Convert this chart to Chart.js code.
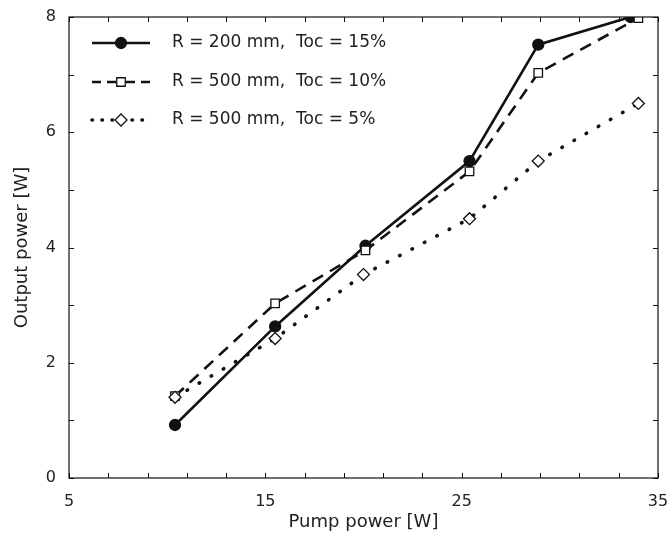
<!DOCTYPE html>
<html>
<head>
<meta charset="utf-8">
<script src="https://cdn.jsdelivr.net/npm/chart.js@4.4.1/dist/chart.umd.min.js"></script>
<style>
  html, body { margin: 0; padding: 0; background: #fff; }
  #wrap { width: 672px; height: 540px; position: relative; }
</style>
</head>
<body>
<div id="wrap"><canvas id="c" width="672" height="540"></canvas></div>
<script>
// ---- Data ----
const seriesLabels = ['R = 200 mm,  Toc = 15%', 'R = 500 mm,  Toc = 10%', 'R = 500 mm,  Toc = 5%'];
const pumpR200T15 = [10.4, 15.5, 20.1, 25.4, 28.9, 33.6];
const outR200T15  = [0.92, 2.63, 4.03, 5.50, 7.52, 8.00];
const pumpR500T10 = [10.4, 15.5, 20.1, 25.4, 28.9, 34.0];
const outR500T10  = [1.42, 3.03, 3.95, 5.32, 7.03, 7.98];
const pumpR500T5  = [10.4, 15.5, 20.0, 25.4, 28.9, 34.0];
const outR500T5   = [1.40, 2.42, 3.53, 4.50, 5.50, 6.50];
const xTickLabels = [5, 15, 25, 35];
const yTickLabels = [0, 2, 4, 6, 8];
const xTitle = 'Pump power [W]';
const yTitle = 'Output power [W]';

const FONT = '"DejaVu Sans", sans-serif';
const INK = '#111';

function pts(xs, ys) { return xs.map((x, i) => ({ x: x, y: ys[i] })); }

const styles = [
  { dash: [], width: 2.6, cap: 'butt', marker: 'circle', r: 5.5, fill: INK },
  { dash: [12, 8], width: 2.6, cap: 'butt', marker: 'rect', r: 6, fill: '#fff' },
  { dash: [0.5, 13.5], width: 3.6, cap: 'round', marker: 'rectRot', r: 6, fill: '#fff' }
];

const datasets = [
  pts(pumpR200T15, outR200T15),
  pts(pumpR500T10, outR500T10),
  pts(pumpR500T5, outR500T5)
].map((d, i) => ({
  label: seriesLabels[i],
  data: d,
  showLine: true,
  borderColor: INK,
  borderWidth: styles[i].width,
  borderDash: styles[i].dash,
  borderCapStyle: styles[i].cap,
  pointStyle: styles[i].marker,
  pointRadius: styles[i].r,
  pointBackgroundColor: styles[i].fill,
  pointBorderColor: INK,
  pointBorderWidth: 1.3,
  tension: 0,
  order: 3 - i
}));

const framePlugin = {
  id: 'frame',
  afterDraw(chart) {
    const { ctx, chartArea: a, scales } = chart;
    const xs = scales.x, ys = scales.y;
    ctx.save();
    ctx.strokeStyle = INK;
    ctx.lineWidth = 1.2;
    ctx.strokeRect(a.left, a.top, a.right - a.left, a.bottom - a.top);
    ctx.lineWidth = 1;
    ctx.beginPath();
    for (let v = 5; v <= 35.001; v += 2) {
      const px = Math.round(xs.getPixelForValue(v)) + 0.5;
      ctx.moveTo(px, a.bottom); ctx.lineTo(px, a.bottom - 5);
      ctx.moveTo(px, a.top); ctx.lineTo(px, a.top + 5);
    }
    for (let v = 0; v <= 8.001; v += 1) {
      const py = Math.round(ys.getPixelForValue(v)) + 0.5;
      ctx.moveTo(a.left, py); ctx.lineTo(a.left + 5, py);
      ctx.moveTo(a.right, py); ctx.lineTo(a.right - 5, py);
    }
    ctx.stroke();

    // axis titles
    ctx.fillStyle = '#222';
    ctx.font = '18px ' + FONT;
    ctx.textAlign = 'center';
    ctx.textBaseline = 'middle';
    ctx.fillText(xTitle, (a.left + a.right) / 2, 522);
    ctx.save();
    ctx.translate(22, (a.top + a.bottom) / 2);
    ctx.rotate(-Math.PI / 2);
    ctx.fillText(yTitle, 0, 0);
    ctx.restore();

    // legend inside plot
    const rows = [43, 82, 120];
    const x0 = 92, x1 = 150, xm = 121, tx = 172;
    ctx.font = '17px ' + FONT;
    ctx.textAlign = 'left';
    ctx.textBaseline = 'middle';
    rows.forEach((y, i) => {
      const s = styles[i];
      ctx.save();
      ctx.strokeStyle = INK;
      ctx.lineWidth = s.width;
      ctx.lineCap = s.cap;
      ctx.setLineDash(i === 1 ? [9, 6] : s.dash.length ? [0.5, 9.5] : []);
      ctx.beginPath();
      if (i === 1) {
        ctx.moveTo(x0, y); ctx.lineTo(xm - 5, y);
        ctx.moveTo(xm + 5, y); ctx.lineTo(x1 + 2, y);
      } else {
        ctx.moveTo(x0, y); ctx.lineTo(x1, y);
      }
      ctx.stroke();
      ctx.restore();
      ctx.save();
      ctx.fillStyle = s.fill;
      ctx.strokeStyle = INK;
      ctx.lineWidth = 1.3;
      Chart.helpers.drawPoint(ctx, { pointStyle: s.marker, radius: s.r, borderWidth: 1.3 }, xm, y);
      ctx.restore();
      ctx.fillStyle = '#222';
      ctx.fillText(seriesLabels[i], tx, y);
    });
    ctx.restore();
  }
};

new Chart(document.getElementById('c'), {
  type: 'scatter',
  data: { datasets: datasets },
  options: {
    responsive: false,
    animation: false,
    devicePixelRatio: 1,
    layout: { padding: { left: 0, right: 14, top: 17, bottom: 0 } },
    plugins: { legend: { display: false }, tooltip: { enabled: false } },
    scales: {
      x: {
        type: 'linear', min: 5, max: 35,
        afterBuildTicks: s => { s.ticks = xTickLabels.map(v => ({ value: v })); },
        afterFit: s => { s.height = 62; s.paddingLeft = 0; s.paddingRight = 0; },
        grid: { display: false, drawTicks: false },
        border: { display: false },
        ticks: { padding: 14, color: '#222', font: { family: FONT, size: 16 }, maxRotation: 0, autoSkip: false }
      },
      y: {
        type: 'linear', min: 0, max: 8,
        afterBuildTicks: s => { s.ticks = yTickLabels.map(v => ({ value: v })); },
        afterFit: s => { s.width = 69; s.paddingTop = 0; s.paddingBottom = 0; },
        grid: { display: false, drawTicks: false },
        border: { display: false },
        ticks: { padding: 13, color: '#222', font: { family: FONT, size: 16 } }
      }
    }
  },
  plugins: [framePlugin]
});
</script>
</body>
</html>
